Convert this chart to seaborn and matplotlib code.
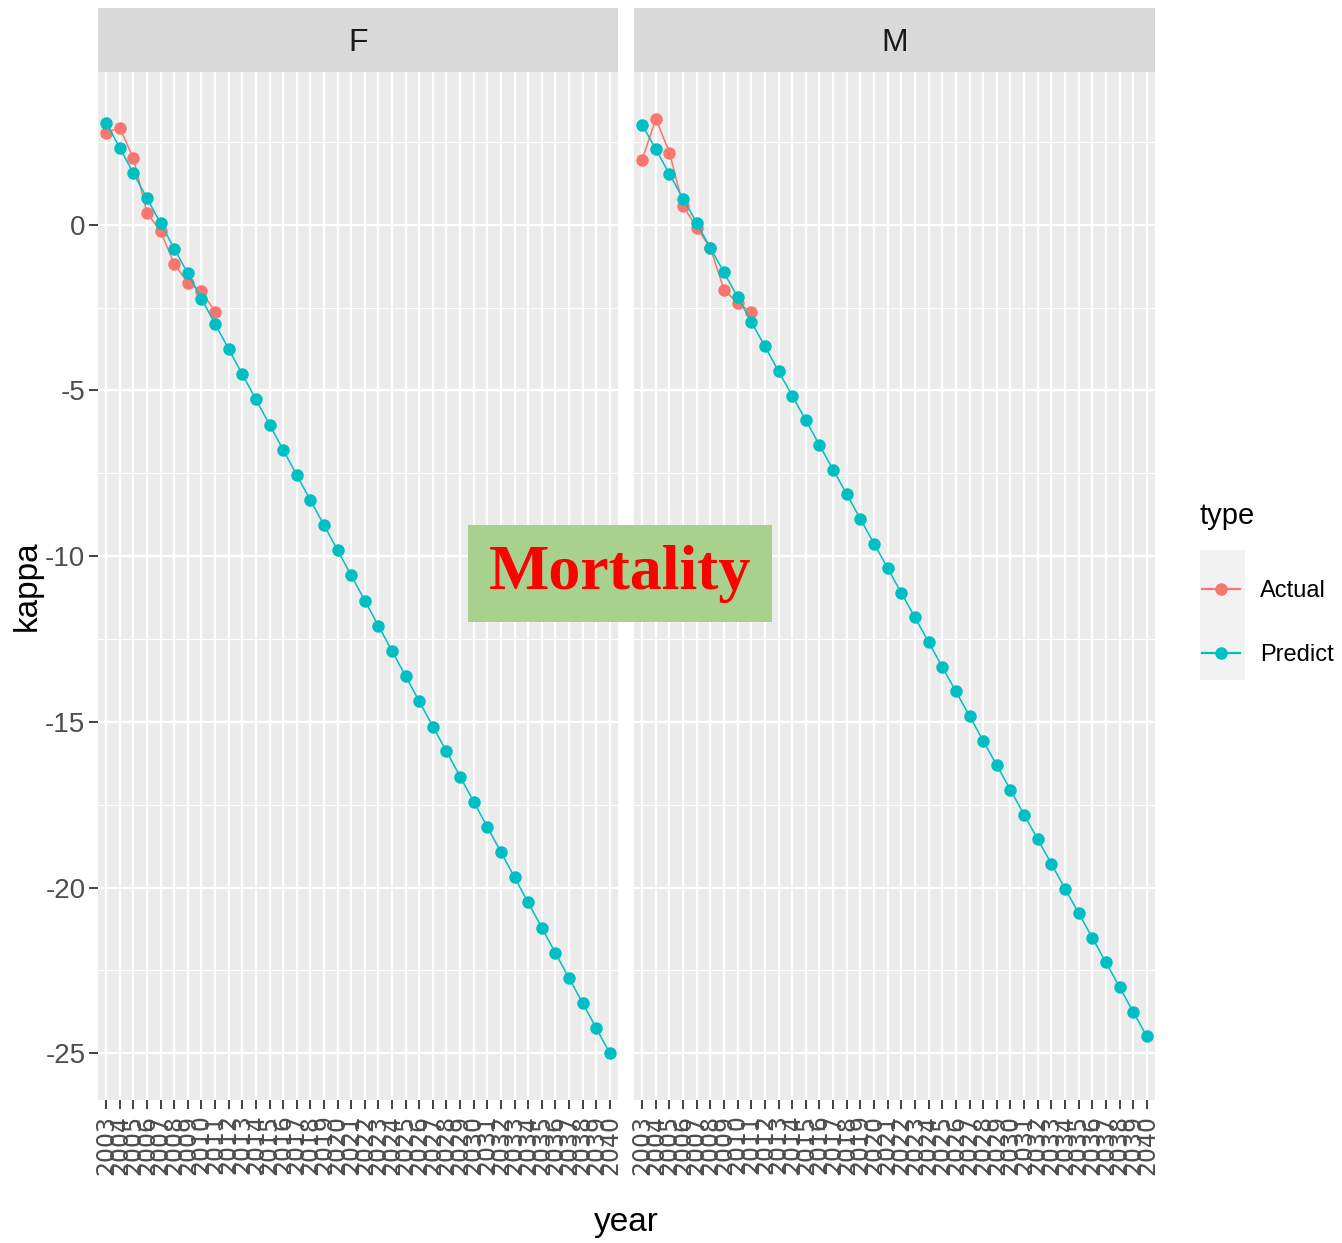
import matplotlib
matplotlib.use("Agg")
import matplotlib.pyplot as plt
from matplotlib.patches import Rectangle
from matplotlib.ticker import MultipleLocator
import numpy as np
import pandas as pd
import seaborn as sns

# ---------------- data ----------------
years = list(range(2003, 2041))
actual_years = list(range(2003, 2012))

F_actual = [2.78, 2.93, 2.00, 0.36, -0.20, -1.18, -1.75, -2.00, -2.63]
F_predict = [3.08, 2.32, 1.56, 0.80, 0.04, -0.72, -1.47, -2.23, -2.99, -3.75,
             -4.51, -5.27, -6.03, -6.79, -7.55, -8.31, -9.06, -9.82, -10.58, -11.34,
             -12.10, -12.86, -13.62, -14.38, -15.14, -15.89, -16.65, -17.41, -18.17, -18.93,
             -19.69, -20.45, -21.21, -21.97, -22.73, -23.48, -24.24, -25.00]

M_actual = [1.96, 3.20, 2.18, 0.57, -0.09, -0.70, -1.96, -2.36, -2.63]
M_predict = [3.02, 2.28, 1.53, 0.79, 0.05, -0.70, -1.44, -2.18, -2.93, -3.67,
             -4.42, -5.16, -5.90, -6.65, -7.39, -8.13, -8.88, -9.62, -10.36, -11.11,
             -11.85, -12.59, -13.34, -14.08, -14.82, -15.57, -16.31, -17.05, -17.80, -18.54,
             -19.28, -20.03, -20.77, -21.51, -22.26, -23.00, -23.75, -24.49]

panels = ["F", "M"]
types = ["Actual", "Predict"]
colors = {"Actual": "#F8766D", "Predict": "#00BFC4"}

rows = []
for sex, act, pred in [("F", F_actual, F_predict), ("M", M_actual, M_predict)]:
    for y, v in zip(actual_years, act):
        rows.append({"sex": sex, "year": y, "kappa": v, "type": "Actual"})
    for y, v in zip(years, pred):
        rows.append({"sex": sex, "year": y, "kappa": v, "type": "Predict"})
df = pd.DataFrame(rows)

plt.rcParams["axes.unicode_minus"] = False

# ---------------- figure ----------------
W, H = 1342, 1243
fig = plt.figure(figsize=(W / 100, H / 100), dpi=100)

def fx(px):
    return px / W

def fy(py):
    return 1 - py / H

sans = ["Liberation Sans", "DejaVu Sans"]

panel_x = {"F": (98, 618), "M": (634, 1155)}
p_top, p_bot = 72, 1100
strip_top = 8

lo = min(df["kappa"].min(), 0)
hi = df["kappa"].max()
pad = 0.05 * (hi - lo)

handles, labels = None, None
for i, sex in enumerate(panels):
    x0, x1 = panel_x[sex]
    ax = fig.add_axes([fx(x0), fy(p_bot), fx(x1 - x0), (p_bot - p_top) / H])
    ax.set_facecolor("#EBEBEB")
    sub = df[df["sex"] == sex]
    sns.lineplot(data=sub, x="year", y="kappa", hue="type", hue_order=types,
                 palette=colors, marker="o", markersize=9, markeredgewidth=0,
                 linewidth=1.1, estimator=None, sort=True, ax=ax,
                 legend=(i == 0))
    if i == 0:
        handles, labels = ax.get_legend_handles_labels()
        ax.get_legend().remove()
    ax.set_xlim(years[0] - 0.6, years[-1] + 0.6)
    ax.set_ylim(lo - pad, hi + pad)
    ax.set_xticks(years)
    ax.set_xticklabels([str(y) for y in years], rotation=90, ha="center", va="top",
                       family=["DejaVu Sans"], fontsize=17, color="#4D4D4D")
    ax.yaxis.set_major_locator(MultipleLocator(5))
    ax.yaxis.set_minor_locator(MultipleLocator(2.5))
    ax.grid(which="major", color="white", linewidth=1.6)
    ax.grid(which="minor", axis="y", color="white", linewidth=0.8)
    ax.set_axisbelow(True)
    for s in ax.spines.values():
        s.set_visible(False)
    ax.tick_params(axis="x", length=6.5, width=1.3, color="#333333", pad=4)
    ax.tick_params(axis="y", which="major", length=6.5, width=1.3, color="#333333", pad=2.5)
    ax.tick_params(axis="y", which="minor", length=0)
    if i == 0:
        for t in ax.get_yticklabels():
            t.set_family(sans)
            t.set_fontsize(20)
            t.set_color("#4D4D4D")
    else:
        ax.set_yticklabels([])
        ax.tick_params(axis="y", which="major", length=0)
    ax.set_xlabel("")
    ax.set_ylabel("")

    # strip
    fig.patches.append(Rectangle((fx(x0), fy(p_top)), fx(x1 - x0), (p_top - strip_top) / H,
                                 transform=fig.transFigure, facecolor="#D9D9D9",
                                 edgecolor="none", zorder=0))
    fig.text(fx((x0 + x1) / 2), fy(43), sex, ha="center", va="center",
             family=sans, fontsize=23, color="#1A1A1A")

# axis titles
fig.text(fx(626.5), fy(1222), "year", ha="center", va="center", family=sans,
         fontsize=24, color="black")
fig.text(fx(27), fy(586), "kappa", ha="center", va="center", rotation=90,
         family=sans, fontsize=24, color="black")

# legend
fig.patches.append(Rectangle((fx(1200), fy(680)), fx(45), 130 / H,
                             transform=fig.transFigure, facecolor="#F2F2F2",
                             edgecolor="none", zorder=0))
fig.text(fx(1199), fy(516), "type", ha="left", va="center", family=sans,
         fontsize=21, color="black")
leg = fig.legend(handles, labels, loc="upper left",
                 bbox_to_anchor=(fx(1202), fy(580)), frameon=False,
                 prop={"family": sans, "size": 17},
                 handlelength=1.6, handletextpad=0.85, labelspacing=1.78,
                 borderpad=0, borderaxespad=0)
for h in leg.legend_handles:
    h.set_linewidth(1.6)
    h.set_markersize(9)

# Mortality overlay
fig.patches.append(Rectangle((fx(468), fy(622)), fx(772 - 468), (622 - 525) / H,
                             transform=fig.transFigure, facecolor="#A9D18E",
                             edgecolor="none", zorder=5))
fig.text(fx(620), fy(574), "Mortality", ha="center", va="center",
         family=["Liberation Serif", "DejaVu Serif"], fontweight="bold",
         fontsize=46, color="#FF0000", zorder=6)

fig.savefig("out.png", dpi=100)
